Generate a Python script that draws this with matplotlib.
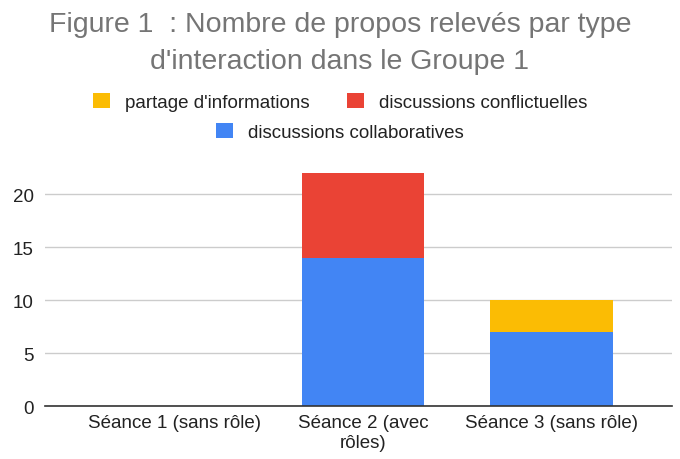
import matplotlib.pyplot as plt
import numpy as np

plt.rcParams['font.family'] = ['Liberation Sans', 'DejaVu Sans']

seances = ['Séance 1 (sans rôle)', 'Séance 2 (avec\nrôles)', 'Séance 3 (sans rôle)']
collaboratives = [0, 14, 7]
conflictuelles = [0, 8, 0]
partage = [0, 0, 3]

blue = '#4285f4'
red = '#ea4335'
yellow = '#fbbc04'

fig = plt.figure(figsize=(6.8, 4.6), dpi=100)
ax = fig.add_axes([0.066, 0.115, 0.922, 0.511])

x = np.arange(len(seances))
w = 0.65
b1 = ax.bar(x, collaboratives, w, color=blue, zorder=3)
bottom2 = np.array(collaboratives)
b2 = ax.bar(x, conflictuelles, w, bottom=bottom2, color=red, zorder=3)
bottom3 = bottom2 + np.array(conflictuelles)
b3 = ax.bar(x, partage, w, bottom=bottom3, color=yellow, zorder=3)

ax.set_xlim(-0.69, 2.64)
ax.set_ylim(0, 22.2)
ax.set_yticks([0, 5, 10, 15, 20])
ax.set_xticks(x)
ax.set_xticklabels(seances)
ax.grid(axis='y', color='#cccccc', linewidth=1, zorder=0)
for s in ['top', 'right', 'left']:
    ax.spines[s].set_visible(False)
ax.spines['bottom'].set_color('#333333')
ax.spines['bottom'].set_linewidth(1.2)
ax.spines['bottom'].set_zorder(4)
ax.tick_params(axis='both', length=0, labelsize=13.5, labelcolor='#222222')
ax.tick_params(axis='y', pad=8)
ax.tick_params(axis='x', pad=6)

fig.text(0.5, 0.905, "Figure 1  : Nombre de propos relevés par type\nd'interaction dans le Groupe 1",
         ha='center', va='center', fontsize=20.5, color='#757575', linespacing=1.55)

fig.legend([b3, b2], ["partage d'informations", 'discussions conflictuelles'],
           loc='center', bbox_to_anchor=(0.5, 0.776), ncol=2, frameon=False,
           fontsize=13.5, handlelength=0.9, handleheight=0.9, columnspacing=2.0,
           handletextpad=0.8, labelcolor='#222222')
fig.legend([b1], ['discussions collaboratives'],
           loc='center', bbox_to_anchor=(0.5, 0.711), frameon=False,
           fontsize=13.5, handlelength=0.9, handleheight=0.9,
           handletextpad=0.8, labelcolor='#222222')

fig.savefig('out.png', dpi=100)
